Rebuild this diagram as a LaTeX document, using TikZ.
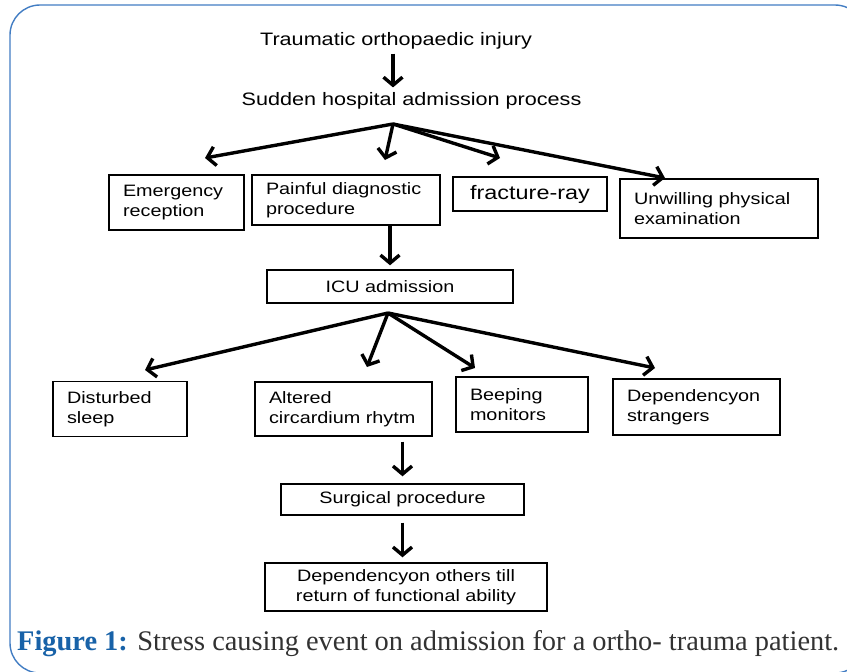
\documentclass[tikz,border=0pt]{standalone}
\usepackage{fontspec}
\setmainfont{Liberation Serif}
\newfontfamily\flowfont{Liberation Sans}[FakeStretch=1.2]
\usetikzlibrary{positioning}
\usetikzlibrary{arrows.meta}
\definecolor{frameblue}{RGB}{66,125,195}
\definecolor{capblue}{RGB}{24,98,168}
\definecolor{capgray}{RGB}{50,50,50}
\tikzset{
	event/.style={draw, rectangle, line width=1.4pt, inner xsep=14pt, inner ysep=4pt, align=left, font=\flowfont\fontsize{16.5}{19.5}\selectfont},
	mid/.style={event, align=center},
	heading/.style={inner sep=0pt, font=\flowfont\fontsize{18}{22}\selectfont},
	frame/.style={draw=frameblue, line width=1.4pt, rounded corners=30pt},
}

\begin{document}
\begin{tikzpicture}[x=1pt, y=-1pt, node distance=60pt]
	\useasboundingbox (0,0) rectangle (847,672);
	\clip (0,0) rectangle (847,672);
	\draw [frame] (10,5) rectangle (865,673);
	
	\node (injury) [heading] at (396,41) {Traumatic orthopaedic injury};
	\node (admit) [heading, below of=injury, xshift=15.5pt] {Sudden hospital admission process};
	
	\node (painful) [event, below of=admit, xshift=-65.5pt, yshift=-39pt, text width=160pt, minimum height=50pt] {Painful diagnostic\\procedure};
	\node (emerg) [event, left of=painful, xshift=-109.5pt, yshift=-2.5pt, text width=107pt, minimum height=55pt] {Emergency\\reception};
	\node (xray) [mid, right of=painful, xshift=124pt, yshift=6pt, minimum width=154pt, minimum height=34pt, font=\flowfont\fontsize{19.5}{23}\selectfont] {fracture-ray};
	\node (exam) [event, right of=xray, xshift=129pt, yshift=-14.5pt, text width=170pt, minimum height=59pt] {Unwilling physical\\examination};
	
	\node (icu) [mid, below of=painful, xshift=44pt, yshift=-26.5pt, minimum width=246pt, minimum height=33pt] {ICU admission};
	
	\node (rhythm) [event, below of=icu, xshift=-46.5pt, yshift=-62.5pt, text width=149pt, minimum height=54pt] {Altered\\circardium rhytm};
	\node (sleep) [event, left of=rhythm, xshift=-163.5pt, text width=106pt, minimum height=55pt] {Disturbed\\sleep};
	\node (beep) [event, right of=rhythm, xshift=118.5pt, yshift=4.5pt, text width=104pt, minimum height=55pt] {Beeping\\monitors};
	\node (strangers) [event, right of=beep, xshift=114.5pt, yshift=-2.5pt, text width=139pt, minimum height=56pt] {Dependencyon\\strangers};
	
	\node (surgery) [mid, below of=rhythm, xshift=59pt, yshift=-30.5pt, minimum width=243pt, minimum height=31pt] {Surgical procedure};
	\node (others) [mid, below of=surgery, xshift=3.5pt, yshift=-27.5pt, minimum width=282pt, minimum height=48pt] {Dependencyon others till\\return of functional ability};
	
	\node (caption) [anchor=base west, inner sep=0pt, text=capgray, font=\fontsize{28.4}{32}\selectfont] at (17,650) {\textcolor{capblue}{\textbf{Figure 1:}} Stress causing event on admission for a ortho- trauma patient.};
	
	% fan-out points and free arrow ends
	\coordinate (fork1) at (393,124);
	\coordinate (to-emerg) at (205,158);
	\coordinate (to-painful) at (385,160);
	\coordinate (to-xray) at (500,158);
	\coordinate (to-exam) at (665,178);
	\coordinate (fork2) at (388,313);
	\coordinate (to-sleep) at (145,370);
	\coordinate (to-rhythm) at (367,367);
	\coordinate (to-beep) at (475,368);
	\coordinate (to-strangers) at (655,368);
	
	\begin{scope}[line width=3.4pt, ->, >={Straight Barb[length=8pt, width=19pt]}]
		\draw [shorten <=4pt, shorten >=5pt] (injury.south -| fork1) -- (admit.north -| fork1);
		
		\draw (fork1) -- (to-emerg);
		\draw (fork1) -- (to-painful);
		\draw (fork1) -- (to-xray);
		\draw (fork1) -- (to-exam);
		
		\draw [shorten >=4pt] (painful.south -| icu.north) -- (icu.north);
		
		\draw (fork2) -- (to-sleep);
		\draw (fork2) -- (to-rhythm);
		\draw (fork2) -- (to-beep);
		\draw (fork2) -- (to-strangers);
		
		\draw [shorten <=5pt, shorten >=7pt] (rhythm.south -| surgery.north) -- (surgery.north);
		\draw [shorten <=7pt, shorten >=5pt] (surgery.south) -- (surgery.south |- others.north);
	\end{scope}
\end{tikzpicture}
\end{document}
